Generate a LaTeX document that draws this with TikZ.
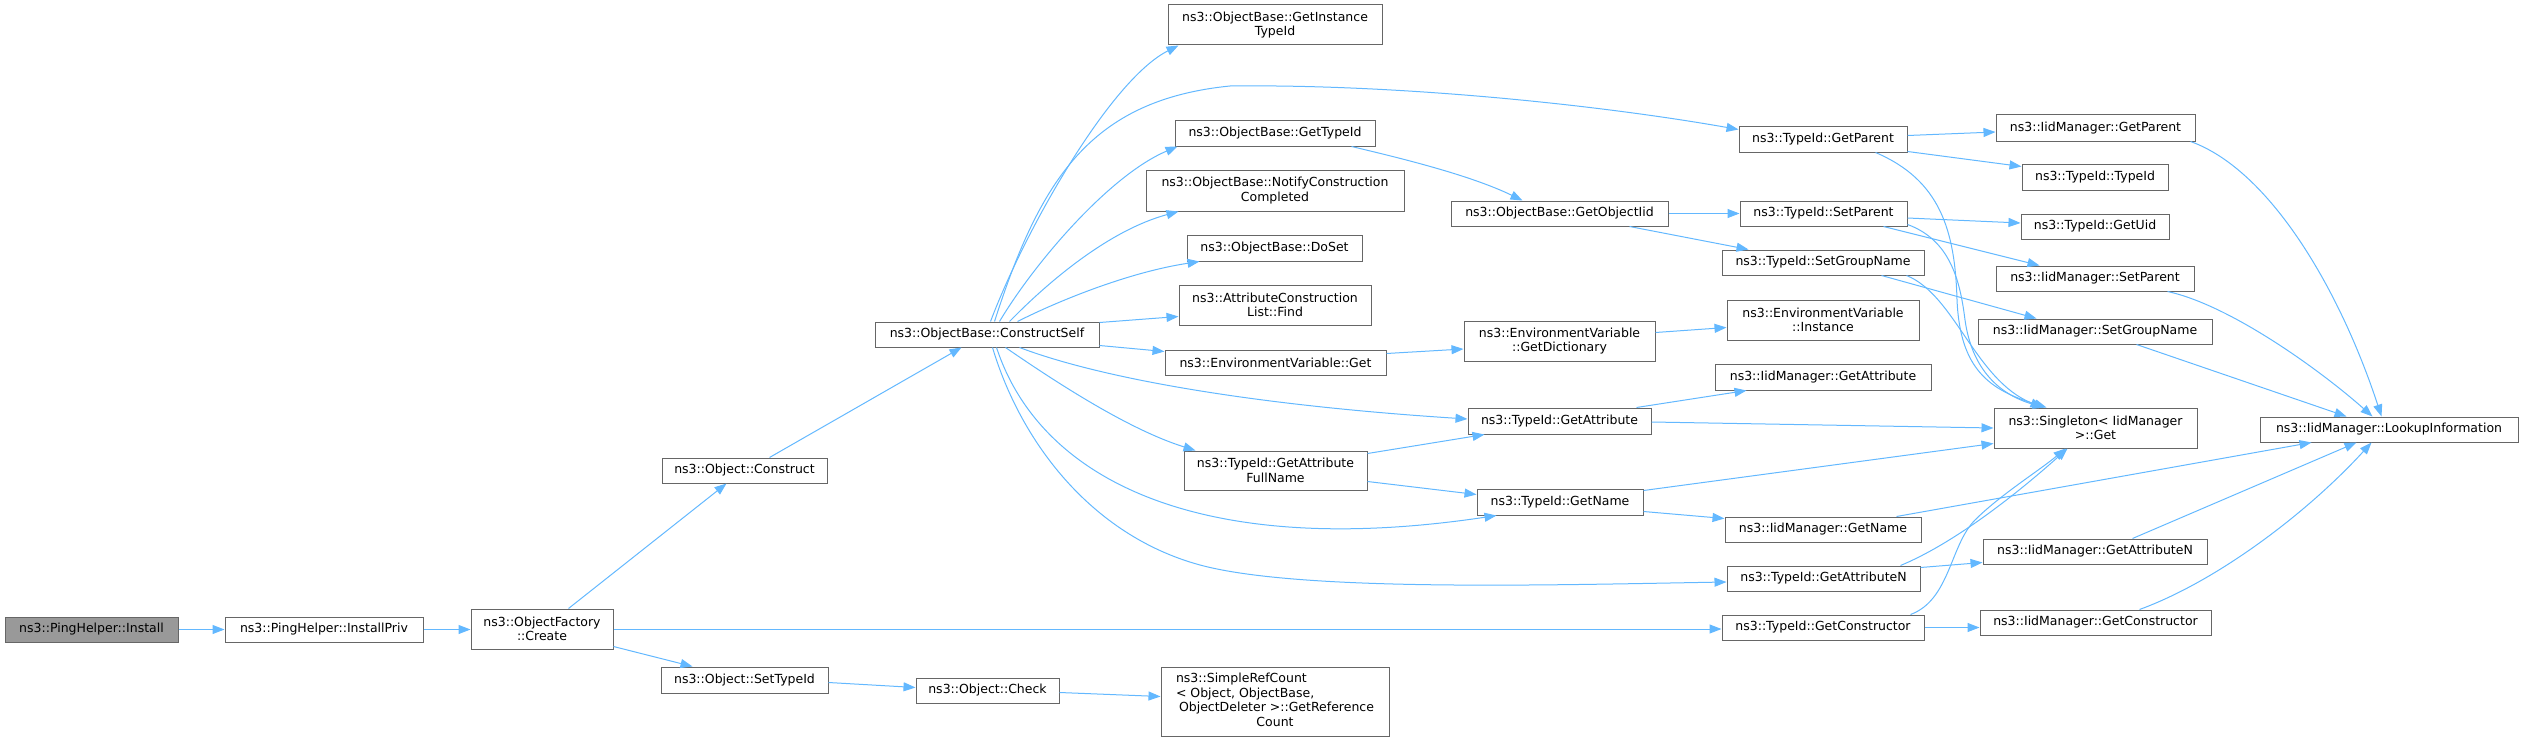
\documentclass[tikz,border=0pt]{standalone}
\usepackage{fontspec}
\setmainfont{DejaVu Sans}
\usetikzlibrary{arrows.meta,calc}
\definecolor{edgeblue}{HTML}{63B8FF}
\definecolor{boxgray}{HTML}{666666}
\definecolor{rootfill}{HTML}{999999}
\tikzset{
  box/.style={draw=boxgray, fill=white, line width=1pt, inner sep=0pt, align=center, text=black,
    font=\fontsize{12.5}{14.5}\selectfont},
  rootbox/.style={box, fill=rootfill},
  edge/.style={draw=edgeblue, line width=1pt, -{Triangle[length=12pt,width=9pt]}}
}
\newcommand{\bx}[7]{\node[#1, minimum width=#4pt, minimum height=#5pt] (#2) at (#3) {#6};}
\begin{document}
\begin{tikzpicture}[x=1pt,y=-1pt]
\useasboundingbox (0,0) rectangle (2523,741);
% column 0-2
\bx{rootbox}{install}{91.5,629.5}{173}{25}{ns3::PingHelper::Install}{}
\bx{box}{installpriv}{324,629.5}{198}{25}{ns3::PingHelper::InstallPriv}{}
\bx{box}{create}{542,629}{142}{40}{ns3::ObjectFactory\\::Create}{}
\bx{box}{construct}{744.5,470.5}{165}{25}{ns3::Object::Construct}{}
\bx{box}{settypeid}{744.5,680}{167}{26}{ns3::Object::SetTypeId}{}
% column 3
\bx{box}{cs}{987,334.5}{224}{25}{ns3::ObjectBase::ConstructSelf}{}
\bx{box}{check}{987.5,690.5}{143}{25}{ns3::Object::Check}{}
% column 4
\bx{box}{git}{1275,25}{214}{40}{ns3::ObjectBase::GetInstance\\TypeId}{}
\bx{box}{gtid}{1275,133.5}{200}{25}{ns3::ObjectBase::GetTypeId}{}
\bx{box}{notify}{1275,190.5}{258}{41}{ns3::ObjectBase::NotifyConstruction\\Completed}{}
\bx{box}{doset}{1274.5,248}{175}{26}{ns3::ObjectBase::DoSet}{}
\bx{box}{find}{1275,305}{192}{40}{ns3::AttributeConstruction\\List::Find}{}
\bx{box}{envget}{1275.5,362.5}{221}{25}{ns3::EnvironmentVariable::Get}{}
\bx{box}{fullname}{1275.5,470.5}{183}{39}{ns3::TypeId::GetAttribute\\FullName}{}
\node[box, minimum width=228pt, minimum height=69pt] (simpleref) at (1275,701.5)
  {\begin{tabular}{@{}l@{}}ns3::SimpleRefCount\\< Object, ObjectBase,\\\hspace{3pt}ObjectDeleter >::GetReference\\\multicolumn{1}{@{}c@{}}{Count}\end{tabular}};
% column 5
\bx{box}{goi}{1559.5,213.5}{217}{25}{ns3::ObjectBase::GetObjectIid}{}
\bx{box}{dict}{1559.5,341}{191}{40}{ns3::EnvironmentVariable\\::GetDictionary}{}
\bx{box}{tga}{1559.5,421}{183}{26}{ns3::TypeId::GetAttribute}{}
\bx{box}{tgn}{1560,502}{166}{26}{ns3::TypeId::GetName}{}
% column 6
\bx{box}{tgp}{1823,139.5}{168}{25}{ns3::TypeId::GetParent}{}
\bx{box}{tsp}{1823.5,213.5}{167}{25}{ns3::TypeId::SetParent}{}
\bx{box}{tsg}{1823,262.5}{202}{25}{ns3::TypeId::SetGroupName}{}
\bx{box}{inst}{1823,320}{192}{40}{ns3::EnvironmentVariable\\::Instance}{}
\bx{box}{iga}{1823,377}{216}{26}{ns3::IidManager::GetAttribute}{}
\bx{box}{ign}{1823,529.5}{196}{25}{ns3::IidManager::GetName}{}
\bx{box}{tgan}{1823.5,578.5}{193}{25}{ns3::TypeId::GetAttributeN}{}
\bx{box}{tgc}{1823,627.5}{202}{25}{ns3::TypeId::GetConstructor}{}
% column 7
\bx{box}{igp}{2095.5,128}{199}{26}{ns3::IidManager::GetParent}{}
\bx{box}{ttid}{2095,177}{146}{26}{ns3::TypeId::TypeId}{}
\bx{box}{uid}{2095,226.5}{148}{25}{ns3::TypeId::GetUid}{}
\bx{box}{isp}{2095,278.5}{198}{25}{ns3::IidManager::SetParent}{}
\bx{box}{isg}{2095,331.5}{234}{25}{ns3::IidManager::SetGroupName}{}
\bx{box}{sing}{2095.5,428}{203}{40}{ns3::Singleton< IidManager\\>::Get}{}
\bx{box}{igan}{2095,551.5}{224}{25}{ns3::IidManager::GetAttributeN}{}
\bx{box}{igc}{2095.5,622.5}{231}{25}{ns3::IidManager::GetConstructor}{}
% column 8
\bx{box}{lookup}{2389,429.5}{258}{25}{ns3::IidManager::LookupInformation}{}

% ---------- edges ----------
\draw[edge] (install) -- (installpriv);
\draw[edge] (installpriv.east) -- (installpriv.east -| create.west);
\draw[edge] ($(create.north west)+(98,0)$) -- ($(construct.south west)+(65,0)$);
\draw[edge] ($(create.north east)+(0,38)$) -- ($(settypeid.north west)+(32,0)$);
\draw[edge] (create.east) -- (create.east -| tgc.west);
\draw[edge] ($(construct.north west)+(108,0)$) -- ($(cs.south west)+(87,0)$);
\draw[edge] ($(settypeid.north east)+(0,16)$) -- ($(check.north west)+(0,10)$);
\draw[edge] ($(check.north east)+(0,15)$) -- ($(simpleref.north west)+(0,30)$);
% ConstructSelf fan
\draw[edge] ($(cs.north west)+(116,0)$) .. controls (1025,230) and (1110,80) .. ($(git.south west)+(11,0)$);
\draw[edge] ($(cs.north west)+(120,0)$) .. controls (1040,180) and (1090,100) .. (1230,86)
  .. controls (1400,84) and (1600,105) .. ($(tgp.north west)+(0,3)$);
\draw[edge] ($(cs.north west)+(125,0)$) .. controls (1035,262) and (1110,175) .. ($(gtid.south west)+(3,0)$);
\draw[edge] ($(cs.north west)+(135,0)$) .. controls (1050,280) and (1110,230) .. ($(notify.south west)+(33,0)$);
\draw[edge] ($(cs.north west)+(143,0)$) .. controls (1060,300) and (1130,272) .. ($(doset.south west)+(13,0)$);
\draw[edge] ($(cs.north east)+(0,1)$) -- ($(find.south west)+(0,-9)$);
\draw[edge] ($(cs.south east)+(0,-2)$) -- ($(envget.north west)+(0,2)$);
\draw[edge] ($(cs.south west)+(145,0)$) .. controls (1100,378) and (1250,405) .. ($(tga.west)+(0,-2)$);
\draw[edge] ($(cs.south west)+(131,0)$) .. controls (1060,385) and (1130,430) .. ($(fullname.north west)+(12,0)$);
\draw[edge] ($(cs.south west)+(122,0)$) .. controls (1040,480) and (1200,560) .. ($(tgn.south west)+(20,0)$);
\draw[edge] ($(cs.south west)+(118,0)$) .. controls (1020,440) and (1090,535) .. (1200,565)
  .. controls (1300,592) and (1550,585) .. ($(tgan.west)+(0,3.5)$);
% middle
\draw[edge] ($(gtid.south east)+(-24,0)$) .. controls (1400,158) and (1470,175) .. ($(goi.north west)+(72,0)$);
\draw[edge] (goi) -- (tsp);
\draw[edge] ($(goi.south east)+(-39,0)$) -- ($(tsg.north west)+(27,0)$);
\draw[edge] ($(envget.north east)+(0,4)$) -- ($(dict.west)+(0,8)$);
\draw[edge] ($(dict.north east)+(0,12)$) -- ($(inst.north west)+(0,28)$);
\draw[edge] ($(fullname.north east)+(0,3)$) -- ($(tga.south west)+(17,0)$);
\draw[edge] ($(fullname.south east)+(0,-9)$) -- ($(tgn.north west)+(0,6)$);
\draw[edge] ($(tga.north east)+(-15,0)$) -- ($(iga.south west)+(32,0)$);
\draw[edge] ($(tga.east)+(0,1)$) -- (sing.west);
\draw[edge] ($(tgn.north east)+(0,2)$) -- ($(sing.south west)+(0,-5)$);
\draw[edge] ($(tgn.south east)+(0,-4)$) -- ($(ign.north west)+(0,2)$);
% TypeId column
\draw[edge] ($(tgp.north east)+(0,9)$) -- ($(igp.west)+(0,4)$);
\draw[edge] ($(tgp.south east)+(0,-1)$) -- ($(ttid.north west)+(0,3)$);
\draw[edge] ($(tgp.south east)+(-32,0)$) .. controls (1940,180) and (1955,230) .. (1957,300)
  .. controls (1960,370) and (1990,390) .. ($(sing.north west)+(53,0)$);
\draw[edge] ($(tsp.east)+(0,4.5)$) -- ($(uid.west)+(0,-3.5)$);
\draw[edge] ($(tsp.south east)+(-24,0)$) -- ($(isp.north west)+(44,0)$);
\draw[edge] ($(tsp.south east)+(0,-2)$) .. controls (1950,240) and (1960,280) .. (1965,320)
  .. controls (1972,370) and (2000,395) .. ($(sing.north west)+(51,0)$);
\draw[edge] ($(tsg.south east)+(-43,0)$) -- ($(isg.north west)+(59,0)$);
\draw[edge] ($(tsg.south east)+(-18,0)$) .. controls (1955,295) and (1975,380) .. ($(sing.north west)+(49,0)$);
\draw[edge] ($(tgan.north east)+(-20,0)$) .. controls (1950,545) and (2010,500) .. ($(sing.south west)+(74,0)$);
\draw[edge] ($(tgan.north east)+(0,2)$) -- ($(igan.south west)+(0,-2)$);
\draw[edge] ($(tgc.north east)+(-14,0)$) .. controls (1950,600) and (1950,545) .. (1975,520)
  .. controls (2000,495) and (2040,470) .. ($(sing.south west)+(72,0)$);
\draw[edge] (tgc.east) -- (tgc.east -| igc.west);
% into LookupInformation
\draw[edge] ($(igp.south east)+(-5,0)$) .. controls (2270,170) and (2340,290) .. ($(lookup.north west)+(122,0)$);
\draw[edge] ($(isp.south east)+(-27,0)$) .. controls (2230,305) and (2320,370) .. ($(lookup.north west)+(113,0)$);
\draw[edge] ($(isg.south east)+(-76,0)$) -- ($(lookup.north west)+(87,0)$);
\draw[edge] ($(ign.north east)+(-25,0)$) -- ($(lookup.south west)+(52,0)$);
\draw[edge] ($(igan.north east)+(-75,0)$) -- ($(lookup.south west)+(97,0)$);
\draw[edge] ($(igc.north east)+(-72,0)$) .. controls (2220,580) and (2310,510) .. ($(lookup.south west)+(112,0)$);
\end{tikzpicture}
\end{document}
